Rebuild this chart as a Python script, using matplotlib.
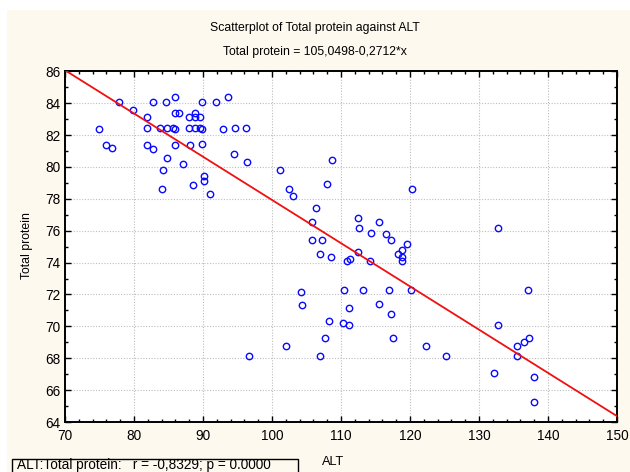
import matplotlib
matplotlib.use("Agg")
import matplotlib.pyplot as plt
from matplotlib.patches import Rectangle
from matplotlib.ticker import MultipleLocator

plt.rcParams["font.family"] = ["Liberation Sans", "DejaVu Sans"]

# ALT vs total protein
alt = [
    74.9, 77.8, 79.9, 81.9, 81.9, 82.8, 83.8, 84.6, 84.8, 85.9,
    85.9, 86.5, 85.7, 86.0, 87.9, 88.8, 88.8, 89.6, 87.9, 88.8,
    89.6, 89.9, 89.9, 91.9, 93.6, 92.9, 94.7, 96.3, 75.9, 76.8,
    81.9, 82.8, 85.9, 88.1, 89.9, 84.8, 87.1, 84.2, 84.0, 90.2,
    90.2, 88.6, 91.0, 94.5, 96.4,
    101.1, 102.5, 103.1, 108.7, 107.9, 106.4, 105.8, 105.8, 107.3, 112.4,
    112.6, 114.3, 115.5, 116.5, 117.2, 119.6, 120.3,
    106.9, 108.5, 110.8, 111.3, 112.4, 114.2, 118.3, 118.8, 118.8, 118.8,
    104.2, 104.4, 110.5, 113.2, 116.9, 120.1, 115.5, 111.2, 117.2, 108.3,
    110.3, 111.2, 107.7, 117.6, 102.1, 106.9, 96.7, 122.3,
    125.2, 137.1, 132.8, 137.3, 136.5, 135.5, 135.5, 132.2, 137.9, 137.9,
    132.8,
]
protein = [
    82.38, 84.06, 83.55, 83.13, 82.46, 84.06, 82.46, 84.06, 82.46, 84.39,
    83.39, 83.39, 82.46, 82.38, 83.13, 83.39, 83.13, 83.13, 82.46, 82.46,
    82.46, 82.38, 84.06, 84.06, 84.39, 82.38, 82.46, 82.46, 81.38, 81.21,
    81.38, 81.13, 81.38, 81.38, 81.46, 80.55, 80.21, 79.79, 78.62, 79.45,
    79.12, 78.87, 78.29, 80.80, 80.29,
    79.79, 78.62, 78.20, 80.46, 78.95, 77.45, 76.53, 75.44, 75.44, 76.78,
    76.19, 75.86, 76.53, 75.78, 75.44, 75.19, 78.62,
    74.52, 74.36, 74.11, 74.20, 74.69, 74.11, 74.52, 74.78, 74.36, 74.11,
    72.18, 71.35, 72.27, 72.27, 72.27, 72.27, 71.43, 71.18, 70.76, 70.34,
    70.18, 70.09, 69.26, 69.26, 68.76, 68.17, 68.17, 68.76,
    68.17, 72.27, 70.09, 69.26, 69.01, 68.76, 68.17, 67.08, 66.83, 65.25,
    76.19,
]

intercept = 105.0498
slope = -0.2712
x_range = [70, 150]

title = "Scatterplot of Total protein against ALT"
subtitle = "Total protein = 105,0498-0,2712*x"
stats_text = "ALT:Total protein:   r = -0,8329; p = 0.0000"

W, H = 630, 472
fig = plt.figure(figsize=(W / 100, H / 100), dpi=100, facecolor="white")

# cream panel behind everything
fig.patches.append(Rectangle((7 / W, 0), 1, 1 - 10 / H, transform=fig.transFigure,
                             facecolor="#FDF9EF", edgecolor="none", zorder=-10))

ax = fig.add_axes([65 / W, 1 - 422 / H, 552 / W, 350.7 / H])
ax.set_facecolor("white")

ax.plot(alt, protein, "o", ls="none", ms=4.6, mfc="none", mec="#0A0AFF", mew=1.0, zorder=3)
ax.plot(x_range, [intercept + slope * v for v in x_range], color="#F01010", lw=1.3, zorder=4)

ax.set_xlim(70, 150)
ax.set_ylim(64, 86)
ax.xaxis.set_major_locator(MultipleLocator(10))
ax.xaxis.set_minor_locator(MultipleLocator(2))
ax.yaxis.set_major_locator(MultipleLocator(2))
ax.yaxis.set_minor_locator(MultipleLocator(1))
ax.tick_params(which="both", direction="in", top=True, right=True, colors="black",
               labelsize=9.8, width=1.0)
ax.tick_params(which="major", length=4)
ax.tick_params(which="minor", length=2.5)
ax.tick_params(axis="x", pad=5)
ax.grid(True, which="major", color="#BDBDBD", ls=(0, (1, 1.5)), lw=0.8)
for s in ax.spines.values():
    s.set_linewidth(1.4)
    s.set_color("black")

fig.text(315 / W, 1 - 28 / H, title, ha="center", va="center", fontsize=8.8)
fig.text(315 / W, 1 - 52 / H, subtitle, ha="center", va="center", fontsize=8.8)
fig.text(27 / W, 1 - 246 / H, "Total protein", rotation=90, ha="center", va="center", fontsize=8.8)
fig.text(333 / W, 1 - 462 / H, "ALT", ha="center", va="center", fontsize=9.2)

# stats box, running off the bottom edge as in the original export
fig.patches.append(Rectangle((12 / W, -0.05), 286 / W, 0.05 + (472 - 459) / H,
                             transform=fig.transFigure, facecolor="none",
                             edgecolor="black", lw=1.0))
fig.text(17 / W, 1 - 469 / H, stats_text, ha="left", va="baseline", fontsize=9.8)

fig.savefig("out.png", dpi=100, facecolor=fig.get_facecolor())
